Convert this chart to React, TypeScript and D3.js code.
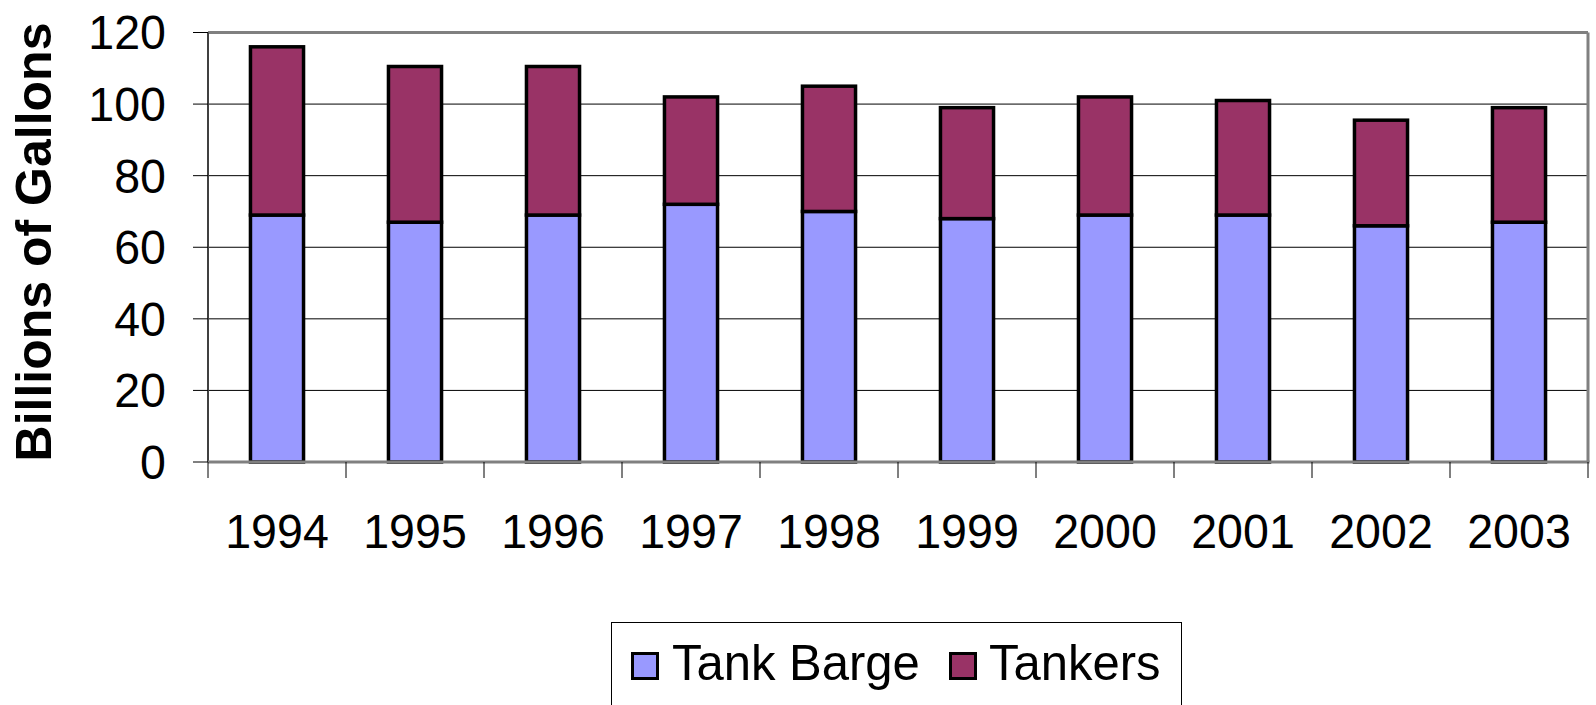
import React from 'react';
import * as d3 from 'd3';

const years = ['1994', '1995', '1996', '1997', '1998', '1999', '2000', '2001', '2002', '2003'];
const tankBarge = [69, 67, 69, 72, 70, 68, 69, 69, 66, 67];
const tankers = [47, 43.5, 41.5, 30, 35, 31, 33, 32, 29.5, 32];
const yTicks = [0, 20, 40, 60, 80, 100, 120];
const seriesNames = ['Tank Barge', 'Tankers'];
const seriesColors = ['#9999FF', '#993366'];
const yTitle = 'Billions of Gallons';

const W = 1596;
const H = 705;
const PL = 208, PR = 1588, PT = 32.5, PB = 462;
const FONT = '"Liberation Sans", Arial, sans-serif';
const SX = 0.95;

export default function App() {
  const rows = years.map((y, i) => ({ year: y, 'Tank Barge': tankBarge[i], Tankers: tankers[i] }));
  const stacked = d3.stack<any>().keys(seriesNames)(rows);
  const x = d3.scaleBand().domain(years).range([PL, PR]).padding(0);
  const y = d3.scaleLinear().domain([0, 120]).range([PB, PT]);
  const step = x.step();
  const barW = step / 2.6;

  const legend = [
    { name: seriesNames[0], color: seriesColors[0], sx: 631, tx: 672 },
    { name: seriesNames[1], color: seriesColors[1], sx: 949, tx: 989 },
  ];

  return (
    <svg width={W} height={H} style={{ position: 'absolute', left: 0, top: 0, background: '#fff' }} fontFamily={FONT}>
      <rect x={0} y={0} width={W} height={H} fill="#fff" />
      {yTicks.filter(t => t > 0 && t < 120).map(t => (
        <line key={'g' + t} x1={PL} x2={PR} y1={y(t)} y2={y(t)} stroke="#000" strokeWidth={1} />
      ))}
      <line x1={PL} x2={PR} y1={PT} y2={PT} stroke="#808080" strokeWidth={3} />
      <line x1={PR} x2={PR} y1={PT} y2={PB} stroke="#808080" strokeWidth={3} />
      {stacked.map((s, si) => (
        <g key={s.key}>
          {s.map((d, i) => {
            const cx = (x(years[i]) as number) + step / 2;
            return (
              <rect key={i} x={cx - barW / 2} y={y(d[1])} width={barW} height={y(d[0]) - y(d[1])}
                fill={seriesColors[si]} stroke="#000" strokeWidth={3.5} />
            );
          })}
        </g>
      ))}
      <line x1={PL} x2={PL} y1={PT} y2={PB} stroke="#404040" strokeWidth={2} />
      <line x1={PL} x2={PR + 1.5} y1={PB} y2={PB} stroke="#808080" strokeWidth={3} />
      {yTicks.map(t => (
        <g key={'yt' + t}>
          <line x1={193} x2={PL} y1={y(t)} y2={y(t)} stroke="#000" strokeWidth={1} />
          <text transform={`translate(166,${y(t)}) scale(${SX},1)`} textAnchor="end" dominantBaseline="central"
            fontSize={49} fill="#000">{t}</text>
        </g>
      ))}
      {years.map((yr, i) => (
        <line key={'xt' + i} x1={x(yr) as number} x2={x(yr) as number} y1={PB} y2={PB + 16} stroke="#000" strokeWidth={1} />
      ))}
      <line x1={PR} x2={PR} y1={PB} y2={PB + 16} stroke="#000" strokeWidth={1} />
      {years.map(yr => (
        <text key={'xl' + yr} transform={`translate(${(x(yr) as number) + step / 2},548) scale(${SX},1)`}
          textAnchor="middle" fontSize={49} fill="#000">{yr}</text>
      ))}
      <text transform="translate(51,242) rotate(-90)" textAnchor="middle" fontSize={50} fontWeight="bold" fill="#000">{yTitle}</text>
      <rect x={611.5} y={622.5} width={570} height={100} fill="#fff" stroke="#000" strokeWidth={1} />
      {legend.map(l => (
        <g key={l.name}>
          <rect x={l.sx + 1.5} y={653.5} width={25} height={25} fill={l.color} stroke="#000" strokeWidth={3} />
          <text transform={`translate(${l.tx},680) scale(0.98,1)`} fontSize={50} fill="#000">{l.name}</text>
        </g>
      ))}
    </svg>
  );
}
